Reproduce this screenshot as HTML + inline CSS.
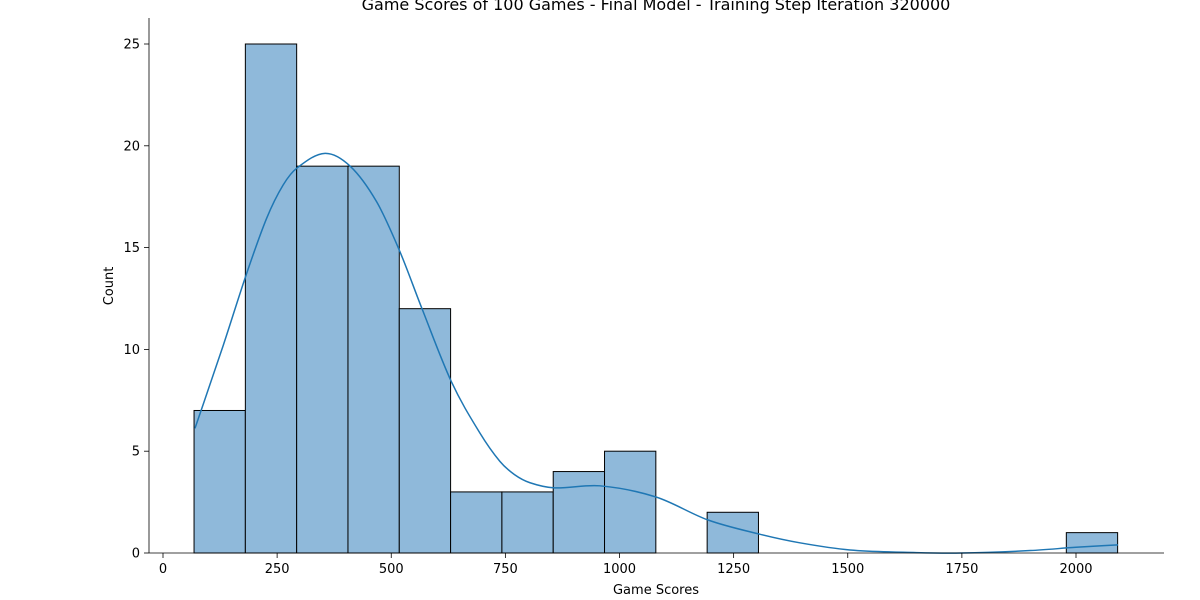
<!DOCTYPE html>
<html><head><meta charset="utf-8">
<style>
html,body{margin:0;padding:0;background:#fff;}
svg{display:block;font-family:"DejaVu Sans","Liberation Sans",sans-serif;}
</style></head>
<body>
<svg id="chart" width="1200" height="600" viewBox="0 0 1200 600">
<text x="656" y="10" text-anchor="middle" font-size="16" fill="#000">Game Scores of 100 Games - Final Model - Training Step Iteration 320000</text>
<g id="bars"></g>
<path id="kde" fill="none" stroke="#1f77b4" stroke-width="1.5"/>
<line x1="149" y1="18" x2="149" y2="553" stroke="#000" stroke-width="0.8"/>
<line x1="149" y1="553" x2="1164" y2="553" stroke="#000" stroke-width="0.8"/>
<g id="xticks"></g>
<g id="yticks"></g>
<text x="656" y="594" text-anchor="middle" font-size="13">Game Scores</text>
<text transform="translate(113,286) rotate(-90)" text-anchor="middle" font-size="13">Count</text>
</svg>
<script>
const binStart = 68;
const binWidth = 112.4;
const counts = [7,25,19,19,12,3,3,4,5,0,2,0,0,0,0,0,0,1];
const kdeX = [70,132,182,227,263,294,355,410,468,519,567,632,694,738,770,804,857,957,1080,1194,1306,1395,1505,1650,1750,1900,2000,2092];
const kdeY = [6.12,10.2,13.65,16.44,18.07,18.92,19.63,19.0,17.25,14.8,12.02,8.4,5.9,4.5,3.85,3.45,3.2,3.3,2.75,1.62,0.93,0.5,0.15,0.02,0.0,0.12,0.28,0.4];
const xTicks = [0,250,500,750,1000,1250,1500,1750,2000];
const yTicks = [0,5,10,15,20,25];

const NS = "http://www.w3.org/2000/svg";
function sx(v){return 163 + v*0.4565;}
function sy(v){return 553 - v*20.36;}
function mk(tag, attrs, parent){const e=document.createElementNS(NS,tag);for(const k in attrs)e.setAttribute(k,attrs[k]);parent.appendChild(e);return e;}

const bars = document.getElementById('bars');
counts.forEach((c,i)=>{
  if(c<=0) return;
  const x0=sx(binStart+i*binWidth), x1=sx(binStart+(i+1)*binWidth);
  const r=mk('rect',{x:x0,y:sy(c),width:x1-x0,height:sy(0)-sy(c),fill:'#8fb9da',stroke:'#000','stroke-width':1},bars);
  
  
});

const P = kdeX.map((x,i)=>[sx(x),sy(kdeY[i])]);
const n = P.length;
const S = P.map((p,i)=>{
  if(i===0) return (P[1][1]-P[0][1])/(P[1][0]-P[0][0]);
  if(i===n-1) return (P[n-1][1]-P[n-2][1])/(P[n-1][0]-P[n-2][0]);
  return (P[i+1][1]-P[i-1][1])/(P[i+1][0]-P[i-1][0]);
});
let d = 'M'+P[0][0]+','+P[0][1];
for(let i=0;i<n-1;i++){
  const h=P[i+1][0]-P[i][0];
  d+=' C'+(P[i][0]+h/3)+','+(P[i][1]+S[i]*h/3)+' '+(P[i+1][0]-h/3)+','+(P[i+1][1]-S[i+1]*h/3)+' '+P[i+1][0]+','+P[i+1][1];
}
document.getElementById('kde').setAttribute('d',d);

const xt=document.getElementById('xticks');
xTicks.forEach(v=>{
  const x=sx(v);
  const l=mk('line',{x1:x,y1:553,x2:x,y2:558,stroke:'#000','stroke-width':0.8},xt);
  
  
  const t=mk('text',{x:x,y:573,'text-anchor':'middle','font-size':13},xt);
  t.textContent=v;
  
  
});
const yt=document.getElementById('yticks');
yTicks.forEach(v=>{
  const y=sy(v);
  const l=mk('line',{x1:144,y1:y,x2:149,y2:y,stroke:'#000','stroke-width':0.8},yt);
  
  
  const t=mk('text',{x:140,y:y+4.5,'text-anchor':'end','font-size':13},yt);
  t.textContent=v;
  
  
});
</script>
</body></html>
